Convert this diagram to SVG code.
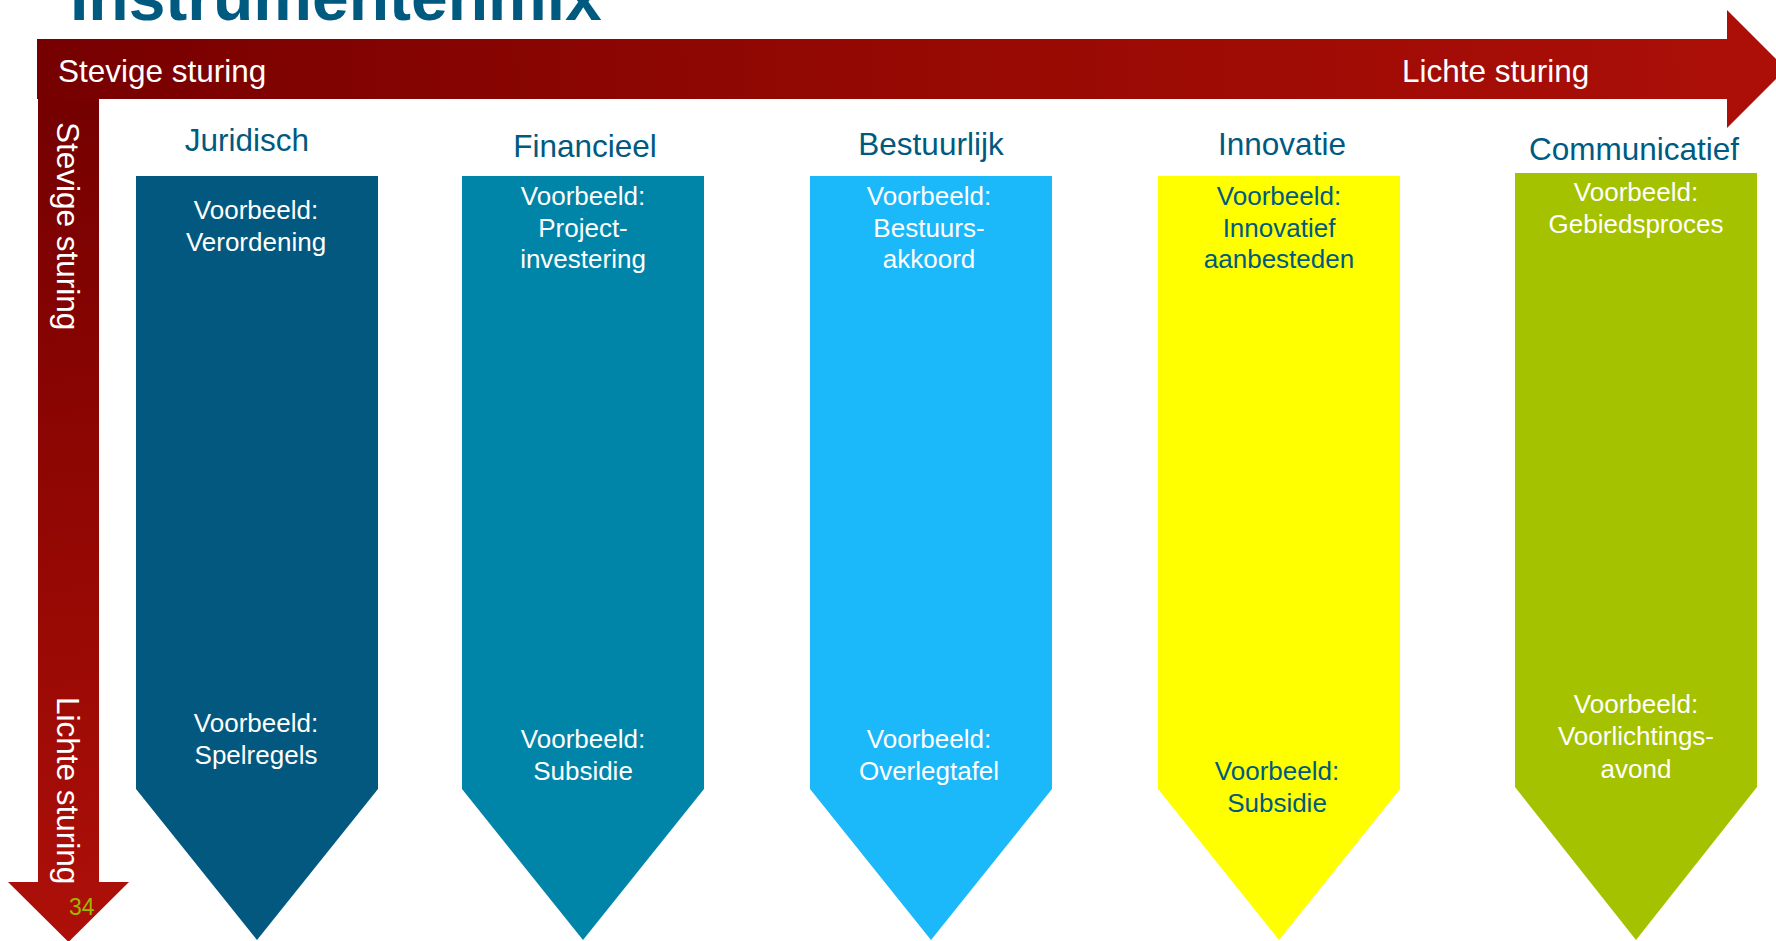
<svg xmlns="http://www.w3.org/2000/svg" width="1776" height="941" viewBox="0 0 1776 941">
  <defs>
    <linearGradient id="gH" gradientUnits="userSpaceOnUse" x1="37" y1="100" x2="1786" y2="10">
      <stop offset="0" stop-color="#760000"/>
      <stop offset="0.5" stop-color="#960903"/>
      <stop offset="1" stop-color="#AC0F08"/>
    </linearGradient>
    <linearGradient id="gV" gradientUnits="userSpaceOnUse" x1="38" y1="99" x2="129" y2="941">
      <stop offset="0" stop-color="#740000"/>
      <stop offset="0.5" stop-color="#920703"/>
      <stop offset="1" stop-color="#AE1009"/>
    </linearGradient>
    <style>
      text { font-family: "Liberation Sans", Arial, sans-serif; }
      .title { font-size: 66px; font-weight: bold; fill: #005A80; }
      .axis { font-size: 31.5px; fill: #FFFFFF; }
      .head { font-size: 31.5px; fill: #005A80; text-anchor: middle; }
      .lbl { font-size: 26px; fill: #FFFFFF; text-anchor: middle; }
      .lblb { font-size: 26px; fill: #005A80; text-anchor: middle; }
    </style>
  </defs>

  <text class="title" x="70" y="20">Instrumentenmix</text>

  <g id="connectors">
    <polygon id="arrow-h" points="37,39 1727,39 1727,10 1786,69 1727,128 1727,99 37,99" fill="url(#gH)"/>
    <polygon id="arrow-v" points="38,99 99,99 99,882 129,882 68.5,942 8,882 38,882" fill="url(#gV)"/>
    <text class="axis" x="58" y="82">Stevige sturing</text>
    <text class="axis" x="1402" y="82">Lichte sturing</text>
    <text class="axis" transform="translate(57,122) rotate(90)">Stevige sturing</text>
    <text class="axis" transform="translate(57,697) rotate(90)">Lichte sturing</text>
    <text x="69" y="915" font-size="23" fill="#9DB800" font-family="Liberation Sans, Arial, sans-serif">34</text>
  </g>

  <g id="juridisch">
    <text class="head" x="247" y="151">Juridisch</text>
    <polygon points="136,176 378,176 378,789 257,940 136,789" fill="#02587E"/>
    <text class="lbl" x="256" y="219">Voorbeeld:</text>
    <text class="lbl" x="256" y="251">Verordening</text>
    <text class="lbl" x="256" y="732">Voorbeeld:</text>
    <text class="lbl" x="256" y="764">Spelregels</text>
  </g>

  <g id="financieel">
    <text class="head" x="585" y="157">Financieel</text>
    <polygon points="462,176 704,176 704,789 583,940 462,789" fill="#0085A8"/>
    <text class="lbl" x="583" y="205">Voorbeeld:</text>
    <text class="lbl" x="583" y="237">Project-</text>
    <text class="lbl" x="583" y="268">investering</text>
    <text class="lbl" x="583" y="748">Voorbeeld:</text>
    <text class="lbl" x="583" y="780">Subsidie</text>
  </g>

  <g id="bestuurlijk">
    <text class="head" x="931" y="155">Bestuurlijk</text>
    <polygon points="810,176 1052,176 1052,789 931,940 810,789" fill="#1BB8FA"/>
    <text class="lbl" x="929" y="205">Voorbeeld:</text>
    <text class="lbl" x="929" y="237">Bestuurs-</text>
    <text class="lbl" x="929" y="268">akkoord</text>
    <text class="lbl" x="929" y="748">Voorbeeld:</text>
    <text class="lbl" x="929" y="780">Overlegtafel</text>
  </g>

  <g id="innovatie">
    <text class="head" x="1282" y="155">Innovatie</text>
    <polygon points="1158,176 1400,176 1400,789 1279,940 1158,789" fill="#FFFF00"/>
    <text class="lblb" x="1279" y="205">Voorbeeld:</text>
    <text class="lblb" x="1279" y="237">Innovatief</text>
    <text class="lblb" x="1279" y="268">aanbesteden</text>
    <text class="lblb" x="1277" y="780">Voorbeeld:</text>
    <text class="lblb" x="1277" y="812">Subsidie</text>
  </g>

  <g id="communicatief">
    <text class="head" x="1634" y="160">Communicatief</text>
    <polygon points="1515,173 1757,173 1757,787 1636,940 1515,787" fill="#A5C200"/>
    <text class="lbl" x="1636" y="201">Voorbeeld:</text>
    <text class="lbl" x="1636" y="233">Gebiedsproces</text>
    <text class="lbl" x="1636" y="713">Voorbeeld:</text>
    <text class="lbl" x="1636" y="745">Voorlichtings-</text>
    <text class="lbl" x="1636" y="778">avond</text>
  </g>
</svg>
